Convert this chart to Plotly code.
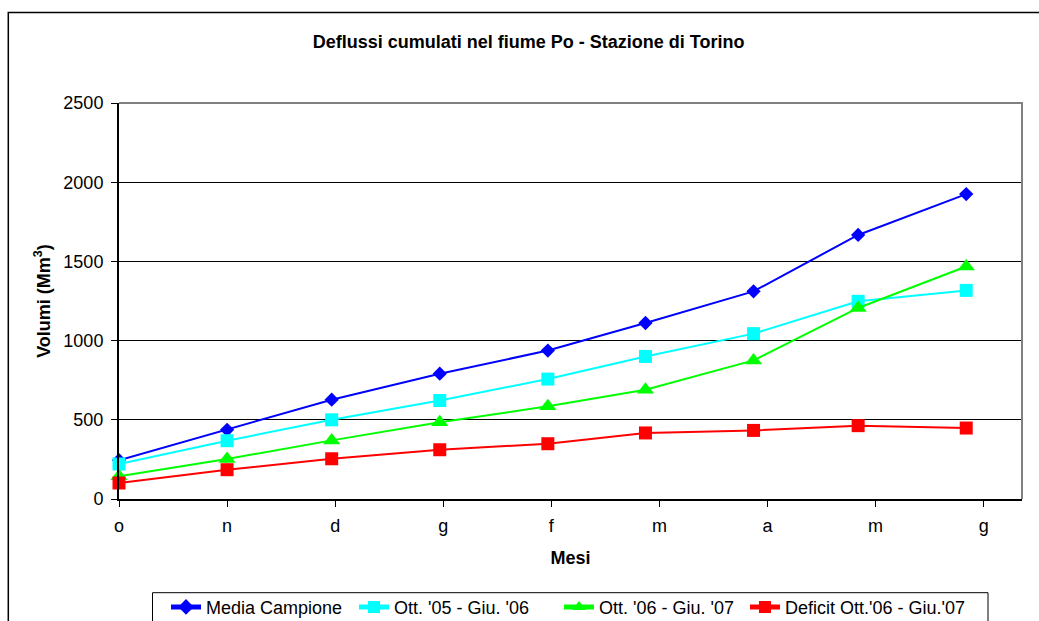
import plotly.graph_objects as go

# Cumulative monthly volumes (Mm3) at the Torino gauging station, river Po
mesi_date = ["2006-10-01", "2006-11-01", "2006-12-01", "2007-01-01", "2007-02-01",
             "2007-03-01", "2007-04-01", "2007-05-01", "2007-06-01"]
media_campione = [245, 437, 627, 791, 937, 1111, 1311, 1667, 1925]
ott05_giu06 = [221, 368, 500, 622, 757, 900, 1044, 1248, 1317]
ott06_giu07 = [143, 253, 370, 484, 585, 690, 875, 1206, 1468]
deficit = [101, 185, 254, 311, 349, 417, 433, 463, 448]

# Month ticks every 31 days, labelled with the month's initial
tick_date = ["2006-10-01", "2006-11-01", "2006-12-02", "2007-01-02", "2007-02-02",
             "2007-03-05", "2007-04-05", "2007-05-06", "2007-06-06"]
tick_text = ["o", "n", "d", "g", "f", "m", "a", "m", "g"]

FONT = "Arial, 'Liberation Sans', sans-serif"

series = [
    ("Media Campione", media_campione, "#0000FF", "diamond", 11, 143),
    ("Ott. '05 - Giu. '06", ott05_giu06, "#00FFFF", "square", 13, 160),
    ("Ott. '06 - Giu. '07", ott06_giu07, "#00FF00", "triangle-up", 15, 141),
    ("Deficit Ott.'06 - Giu.'07", deficit, "#FF0000", "square", 13, 190),
]

fig = go.Figure()
for name, vals, color, symbol, size, lw in series:
    fig.add_trace(go.Scatter(
        x=mesi_date, y=vals, name=name, mode="lines+markers",
        line=dict(color=color, width=2),
        marker=dict(color=color, symbol=symbol, size=size, line=dict(width=0)),
        cliponaxis=False, legendwidth=lw,
    ))

# pixel -> paper helpers for the 903x396 plot area
def px(x):
    return (x - 119) / 903


def py(y):
    return (499.3 - y) / 396


fig.update_layout(
    width=1039, height=621,
    margin=dict(l=119, r=17, t=103, b=122, autoexpand=False),
    paper_bgcolor="white", plot_bgcolor="white",
    font=dict(family=FONT, size=18, color="black"),
    title=dict(text="Deflussi cumulati nel fiume Po - Stazione di Torino",
               font=dict(size=18, weight="bold"),
               x=0.5087, xanchor="center", y=1 - 42 / 621, yanchor="middle"),
    xaxis=dict(
        type="date", range=["2006-10-01", "2007-06-17"],
        tickmode="array", tickvals=tick_date, ticktext=tick_text,
        ticks="outside", ticklen=6, tickcolor="black", tickwidth=1,
        ticklabelstandoff=3,
        showline=True, linecolor="black", linewidth=2,
        showgrid=False, zeroline=False,
        title=dict(text="Mesi", font=dict(size=18, weight="bold"), standoff=17),
    ),
    yaxis=dict(
        range=[0, 2500], dtick=500, tick0=0,
        ticks="outside", ticklen=6, tickcolor="black", tickwidth=1,
        showline=True, linecolor="black", linewidth=2,
        showgrid=True, gridcolor="black", gridwidth=1,
        zeroline=False, ticklabelstandoff=4,
        title=dict(text="Volumi (Mm<sup>3</sup>)", font=dict(size=18, weight="bold"),
                   standoff=8),
    ),
    legend=dict(
        orientation="h", x=px(166), xanchor="left",
        y=py(589), yanchor="top",
        borderwidth=0, bgcolor="rgba(0,0,0,0)",
        font=dict(size=18), itemsizing="constant",
    ),
    shapes=[
        # plot-area frame on the top and right sides
        dict(type="path", xref="paper", yref="paper", path="M 0,1 L 1,1 L 1,0",
             line=dict(color="#808080", width=2), layer="above"),
        # chart-area border
        dict(type="rect", xref="paper", yref="paper",
             x0=px(8.3), y0=-0.4, x1=1.04, y1=py(12.7),
             line=dict(color="black", width=1.5), layer="above"),
        # legend frame
        dict(type="rect", xref="paper", yref="paper",
             x0=px(152.5), y0=py(625), x1=px(988), y1=py(593),
             line=dict(color="black", width=1), layer="below"),
    ],
)

fig.write_html("out.html")
